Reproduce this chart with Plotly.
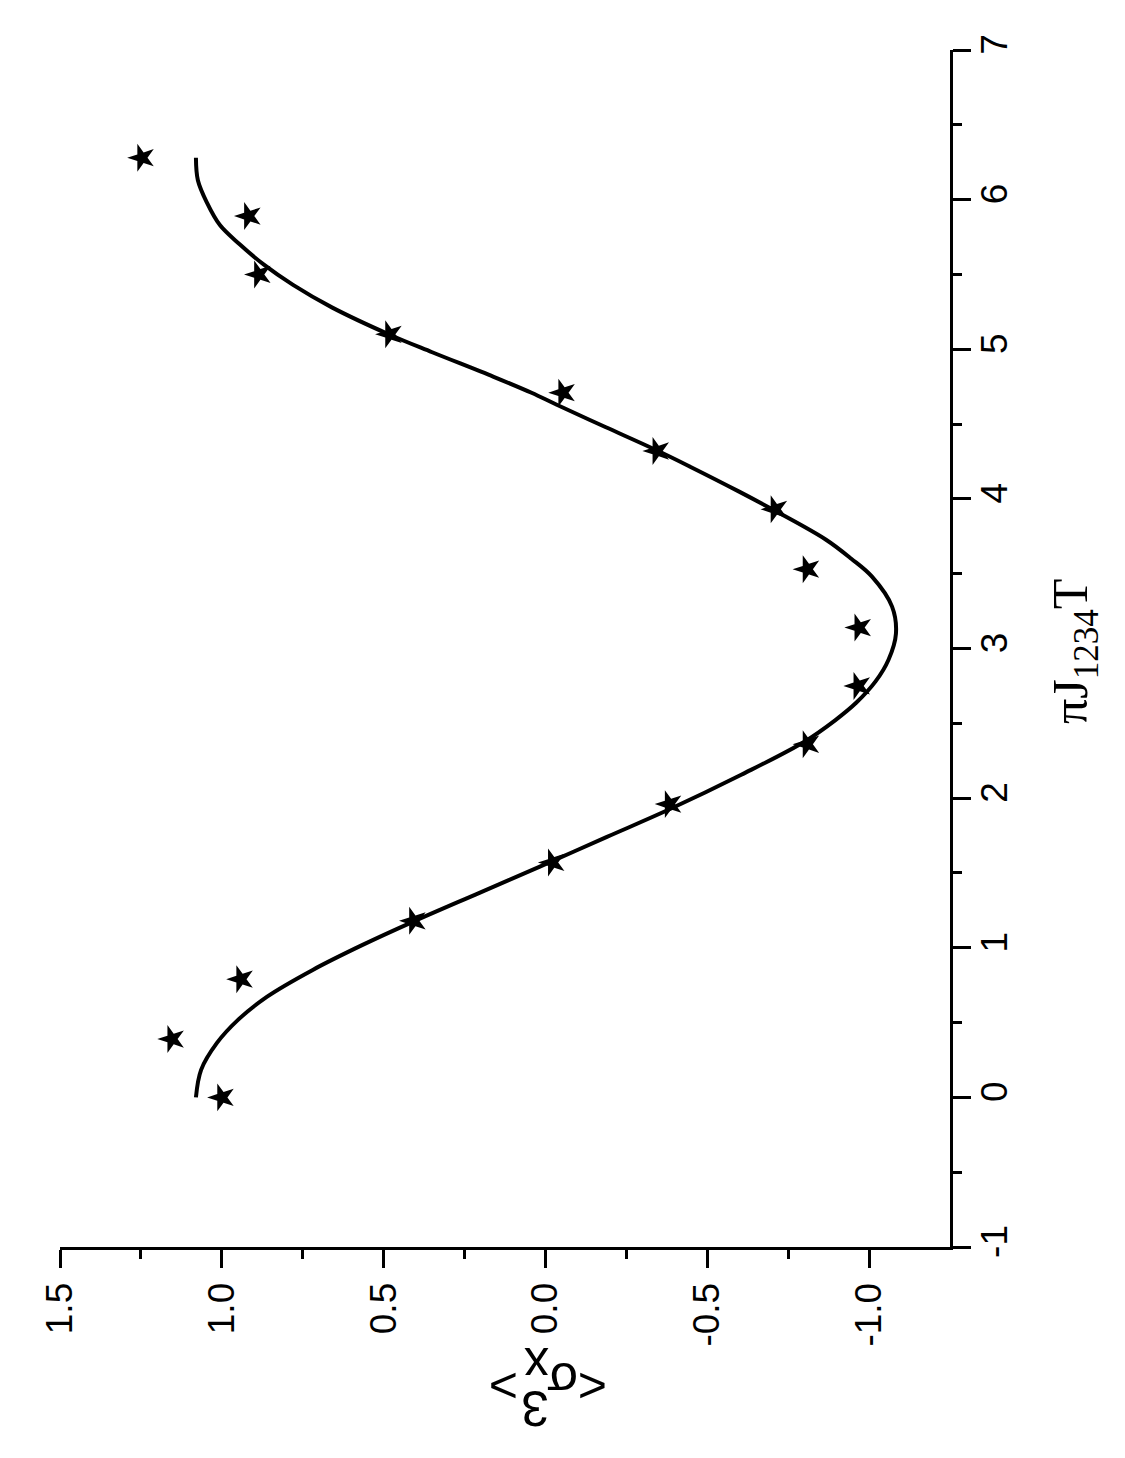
import plotly.graph_objects as go

# Measured points (stars): pi*J1234*T  vs  <sigma>
t_meas = [0.00, 0.39, 0.79, 1.18, 1.57, 1.96, 2.36, 2.75, 3.14, 3.53, 3.93, 4.32, 4.71, 5.10, 5.50, 5.89, 6.28]
s_meas = [1.000, 1.154, 0.941, 0.407, -0.022, -0.383, -0.809, -0.966, -0.969, -0.809, -0.710, -0.345, -0.054, 0.481, 0.886, 0.917, 1.247]

# Theory curve
t_curve = [0.000, 0.184, 0.364, 0.518, 0.672, 0.852, 1.019, 1.173, 1.367, 1.541, 1.741, 1.922, 2.156,
           2.377, 2.520, 2.637, 2.780, 2.925, 3.100, 3.280, 3.480, 3.600, 3.727, 3.914, 4.050, 4.215,
           4.328, 4.480, 4.629, 4.709, 4.816, 4.980, 5.097, 5.280, 5.430, 5.565, 5.700, 5.830, 5.980,
           6.130, 6.280]
s_curve = [1.080, 1.064, 1.015, 0.950, 0.861, 0.719, 0.565, 0.410, 0.204, 0.019, -0.190, -0.380, -0.605,
           -0.800, -0.895, -0.960, -1.020, -1.060, -1.083, -1.071, -1.009, -0.945, -0.867, -0.715, -0.597, -0.447,
           -0.340, -0.185, -0.035, 0.043, 0.160, 0.350, 0.481, 0.660, 0.780, 0.870, 0.944, 1.006, 1.046,
           1.074, 1.080]

# Tick labels
s_ticks = [1.5, 1.0, 0.5, 0.0, -0.5, -1.0]
s_ticklabels = ["1.5", "1.0", "0.5", "0.0", "-0.5", "-1.0"]
s_minor = [1.25, 0.75, 0.25, -0.25, -0.75]
t_ticks = [-1, 0, 1, 2, 3, 4, 5, 6, 7]
t_ticklabels = ["-1", "0", "1", "2", "3", "4", "5", "6", "7"]
t_minor = [-0.5, 0.5, 1.5, 2.5, 3.5, 4.5, 5.5, 6.5]

fig = go.Figure()
fig.add_trace(go.Scatter(x=s_curve, y=t_curve, mode="lines",
                         line=dict(color="black", width=4, shape="spline", smoothing=1.0),
                         showlegend=False))
fig.add_trace(go.Scatter(x=s_meas, y=t_meas, mode="markers",
                         marker=dict(symbol="star", size=21, color="black", angle=-90,
                                     line=dict(width=0)),
                         showlegend=False))

W, H = 1125, 1458
PL, PT, PW, PH = 60, 50, 890, 1197     # plot area in the screenshot
BODY = 8                                # default page margin of the html body
L, T = PL - BODY, PT - BODY
R, B = W - L - PW, H - T - PH

def px(xp):
    return (xp - PL) / PW

def py(yp):
    return (PT + PH - yp) / PH

tickfont = dict(family="Liberation Sans, Arial", size=37, color="black")

fig.update_layout(
    width=W, height=H,
    margin=dict(l=L, r=R, t=T, b=B),
    paper_bgcolor="white", plot_bgcolor="white",
    xaxis=dict(range=[1.5, -1.25], side="bottom", showgrid=False, zeroline=False,
               showline=True, linewidth=3, linecolor="black",
               ticks="outside", ticklen=18, tickwidth=3, tickcolor="black",
               tickmode="array", tickvals=s_ticks, ticktext=s_ticklabels,
               tickangle=-90, tickfont=tickfont,
               minor=dict(tickmode="array", tickvals=s_minor, ticks="outside",
                          ticklen=9, tickwidth=3, tickcolor="black", showgrid=False)),
    yaxis=dict(range=[-1, 7], side="right", showgrid=False, zeroline=False,
               showline=True, linewidth=3, linecolor="black",
               ticks="outside", ticklen=18, tickwidth=3, tickcolor="black",
               tickmode="array", tickvals=t_ticks, ticktext=t_ticklabels,
               tickangle=-90, tickfont=tickfont, ticklabelstandoff=-8,
               minor=dict(tickmode="array", tickvals=t_minor, ticks="outside",
                          ticklen=9, tickwidth=3, tickcolor="black", showgrid=False)),
)

# Vertical axis title (rotated, on the right)
fig.add_annotation(xref="paper", yref="paper", x=px(1074), y=py(652),
                   text="πJ<sub>1234</sub>T", showarrow=False, textangle=-90,
                   xanchor="center", yanchor="middle",
                   font=dict(family="Liberation Serif, Times New Roman", size=50, color="black"))

# Horizontal axis title: glyphs drawn upside-down, as in the reference
lab_font = dict(family="Liberation Sans, Arial", size=50, color="black")
for ch, xp, yp in [("&gt;", 504, 1386), ("x", 537, 1365), ("3", 535, 1408),
                   ("σ", 563, 1380), ("&lt;", 593, 1386)]:
    fig.add_annotation(xref="paper", yref="paper", x=px(xp), y=py(yp), text=ch,
                       showarrow=False, textangle=180, xanchor="center", yanchor="middle",
                       font=lab_font)

fig.write_html("out.html")
